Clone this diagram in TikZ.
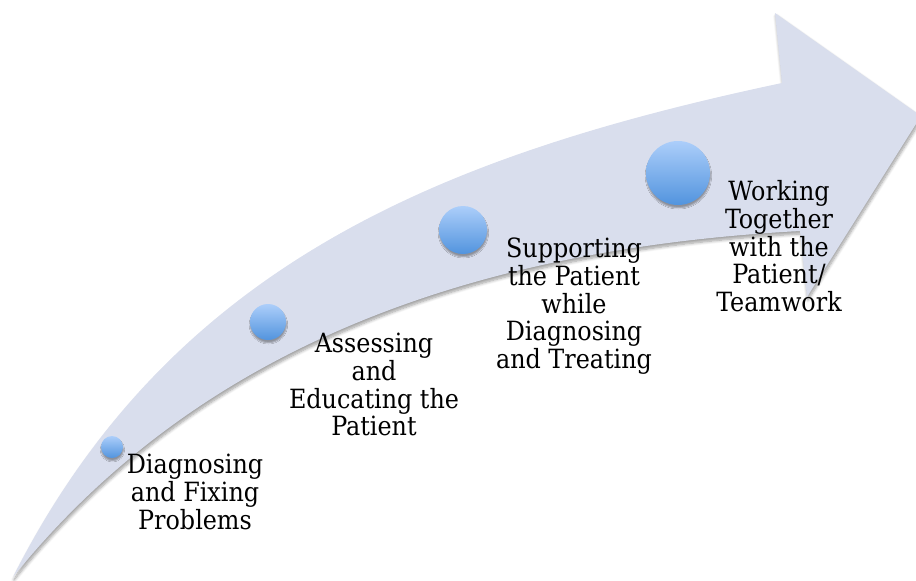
\documentclass[tikz,border=0pt]{standalone}
\usepackage{fontspec}
\IfFontExistsTF{DejaVu Serif Condensed}{\setmainfont{DejaVu Serif Condensed}}{\setmainfont{DejaVu Serif}}
\usetikzlibrary{shadows.blur}
\definecolor{arrowfill}{RGB}{217,222,237}
\definecolor{balltop}{RGB}{172,206,250}
\definecolor{ballbot}{RGB}{82,148,222}
\tikzset{
  ball/.style={circle, inner sep=0pt, outer sep=0pt, top color=balltop, bottom color=ballbot,
    blur shadow={shadow xshift=0.4pt, shadow yshift=-2.8pt, shadow blur steps=5, shadow blur radius=1.2pt, shadow opacity=35}},
  steptext/.style={anchor=base, inner sep=0pt, font=\fontsize{26.5}{26.6}\selectfont},
  bigarrow/.style={fill=arrowfill,
    blur shadow={shadow xshift=1pt, shadow yshift=-3pt, shadow blur steps=8, shadow blur radius=3pt, shadow opacity=38}}
}
\begin{document}
\begin{tikzpicture}[x=1pt,y=-1pt]
\useasboundingbox (0,0) rectangle (916,581);
\begin{scope}
\clip (0,0) rectangle (916,581);
\path[bigarrow] (13,577) .. controls (170.5,265.5) and (439.7,155.5) .. (782,83)
  -- (775,13) -- (921,116) -- (807,297) -- (800,231)
  .. controls (450,250) and (189,359) .. (13,577) -- cycle;
\end{scope}
\node[ball, minimum size=22pt] (b1) at (112,447) {};
\node[ball, minimum size=36pt] (b2) at (268,322) {};
\node[ball, minimum size=48pt] (b3) at (463,230) {};
\node[ball, minimum size=64pt] (b4) at (678,173) {};
\node[steptext] (t1) at (195,473) {\begin{tabular}[t]{@{}c@{}}Diagnosing\\and Fixing\\Problems\end{tabular}};
\node[steptext] (t2) at (374,352) {\begin{tabular}[t]{@{}c@{}}Assessing\\and\\Educating the\\Patient\end{tabular}};
\node[steptext] (t3) at (574,257) {\begin{tabular}[t]{@{}c@{}}Supporting\\the Patient\\while\\Diagnosing\\and Treating\end{tabular}};
\node[steptext] (t4) at (779,200) {\begin{tabular}[t]{@{}c@{}}Working\\Together\\with the\\Patient/\\Teamwork\end{tabular}};
\end{tikzpicture}
\end{document}
